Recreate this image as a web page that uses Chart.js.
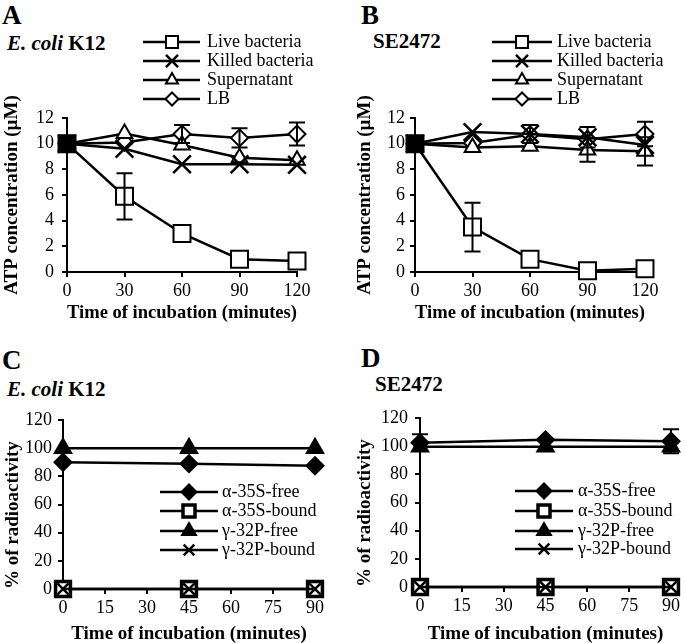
<!DOCTYPE html>
<html>
<head>
<meta charset="utf-8">
<script src="https://cdn.jsdelivr.net/npm/chart.js@4.4.0/dist/chart.umd.min.js"></script>
<style>
  body { margin: 0; background: #fff; width: 685px; height: 643px; position: relative; overflow: hidden; font-family: "Liberation Serif", "Times New Roman", Times, serif; }
  canvas { position: absolute; }
  .lbl { position: absolute; font-weight: bold; line-height: 1; white-space: nowrap; color: #000; }
</style>
</head>
<body>
<div class="lbl" style="left:2px;top:2px;font-size:27px">A</div>
<div class="lbl" style="left:7px;top:33px;font-size:21px"><i>E. coli</i> K12</div>
<div class="lbl" style="left:361px;top:2px;font-size:27px">B</div>
<div class="lbl" style="left:373px;top:31px;font-size:21px">SE2472</div>
<div class="lbl" style="left:2px;top:347px;font-size:27px">C</div>
<div class="lbl" style="left:7px;top:379px;font-size:21px"><i>E. coli</i> K12</div>
<div class="lbl" style="left:361px;top:345px;font-size:27px">D</div>
<div class="lbl" style="left:375px;top:374px;font-size:21px">SE2472</div>

<canvas id="chartA" width="342" height="324" style="left:0;top:0"></canvas>
<canvas id="chartB" width="343" height="324" style="left:342px;top:0"></canvas>
<canvas id="chartC" width="342" height="323" style="left:0;top:322px"></canvas>
<canvas id="chartD" width="343" height="323" style="left:342px;top:322px"></canvas>

<script>
// ---- data ----
const timesAB = [0, 30, 60, 90, 120];
const timesCD = [0, 45, 90];
const namesAB = ['Live bacteria', 'Killed bacteria', 'Supernatant', 'LB'];
const namesCD = ['α-35S-free', 'α-35S-bound', 'γ-32P-free', 'γ-32P-bound'];

// panel A, E. coli K12, ATP (µM)
const liveK12 = [10, 5.9, 3.0, 1.0, 0.85];
const liveK12Err = [0, 1.8, 0, 0, 0];
const killedK12 = [10, 9.6, 8.4, 8.4, 8.35];
const killedK12Err = [0, 0, 0, 0, 0];
const superK12 = [10, 10.8, 9.9, 8.9, 8.7];
const superK12Err = [0, 0, 0, 0, 0];
const lbK12 = [10, 10.1, 10.75, 10.45, 10.75];
const lbK12Err = [0, 0, 0.7, 0.75, 0.9];

// panel B, SE2472, ATP (µM)
const liveSE = [10, 3.5, 1.0, 0.1, 0.25];
const liveSEErr = [0, 1.9, 0, 0, 0];
const killedSE = [10, 10.9, 10.75, 10.5, 9.9];
const killedSEErr = [0, 0, 0.7, 0.8, 0];
const superSE = [10, 9.7, 9.8, 9.5, 9.4];
const superSEErr = [0, 0, 0, 0.9, 1.1];
const lbSE = [10, 10.05, 10.7, 10.35, 10.75];
const lbSEErr = [0, 0, 0, 0, 0.95];

// panel C, E. coli K12, % radioactivity
const a35FreeK12 = [90, 89, 87.5];
const a35BoundK12 = [0, 0, 0];
const g32FreeK12 = [100, 100, 100];
const g32BoundK12 = [0, 0, 0];

// panel D, SE2472, % radioactivity
const a35FreeSE = [102.5, 104.5, 103.5];
const a35FreeSEErr = [6, 0, 8.5];
const a35BoundSE = [0, 0, 0];
const g32FreeSE = [99.5, 99.5, 99.5];
const g32BoundSE = [0, 0, 0];

// ---- styles ----
const FONT = '"Liberation Serif", "Times New Roman", Times, serif';
const tickFont = { family: FONT, size: 18 };
const titleFont = { family: FONT, size: 19, weight: 'bold' };

// marker looks, one per series position
const marksAB = [
  { style: 'rect', r: 12, fill: '#fff', bw: 2, lr: 8.5, firstFill: '#000' },
  { style: 'crossRot', r: 12.5, fill: '#000', bw: 2.5, lr: 8.5 },
  { style: 'triangle', r: 9, fill: '#fff', bw: 2, lr: 7 },
  { style: 'rectRot', r: 8.5, fill: '#fff', bw: 2, lr: 6.5 }
];
const marksCD = [
  { style: 'rectRot', r: 8.5, fill: '#000', bw: 2, lr: 7.5 },
  { style: 'rect', r: 10.5, fill: '#fff', bw: 3.5, lr: 8.5 },
  { style: 'triangle', r: 9.5, fill: '#000', bw: 2, lr: 8 },
  { style: 'crossRot', r: 8, fill: '#000', bw: 2.5, lr: 7.5 }
];

function toPoints(times, vals) {
  return times.map((t, i) => ({ x: t, y: vals[i] }));
}

function makeSet(label, times, vals, errs, mark, order) {
  return {
    label: label,
    data: toPoints(times, vals),
    errors: errs,
    mark: mark,
    order: order,
    borderColor: '#000',
    borderWidth: 2.5,
    tension: 0,
    clip: false,
    pointStyle: mark.style,
    pointRadius: mark.r,
    // the stacked markers at t=0 print as one solid block
    pointBackgroundColor: c => (c.dataIndex === 0 && mark.firstFill) ? mark.firstFill : mark.fill,
    pointBorderColor: '#000',
    pointBorderWidth: mark.bw
  };
}

// error bars drawn from dataset.errors
const errorBars = {
  id: 'errorBars',
  afterDatasetsDraw(chart) {
    const ctx = chart.ctx;
    const xs = chart.scales.x, ys = chart.scales.y;
    ctx.save();
    ctx.strokeStyle = '#000';
    ctx.lineWidth = 2;
    chart.data.datasets.forEach(ds => {
      if (!ds.errors) return;
      ds.data.forEach((p, i) => {
        const e = ds.errors[i];
        if (!e) return;
        const px = xs.getPixelForValue(p.x);
        const top = ys.getPixelForValue(p.y + e);
        const bot = ys.getPixelForValue(p.y - e);
        ctx.beginPath();
        ctx.moveTo(px, top); ctx.lineTo(px, bot);
        ctx.moveTo(px - 8, top); ctx.lineTo(px + 8, top);
        ctx.moveTo(px - 8, bot); ctx.lineTo(px + 8, bot);
        ctx.stroke();
      });
    });
    ctx.restore();
  }
};

// legend with a line through the marker, placed by hand
const lineLegend = {
  id: 'lineLegend',
  afterDraw(chart, args, opts) {
    const ctx = chart.ctx;
    ctx.save();
    chart.data.datasets.forEach((ds, i) => {
      const y = opts.ys[i];
      ctx.strokeStyle = '#000';
      ctx.lineWidth = 2.5;
      ctx.beginPath();
      ctx.moveTo(opts.x1, y); ctx.lineTo(opts.x2, y);
      ctx.stroke();
      ctx.fillStyle = ds.mark.fill;
      ctx.lineWidth = ds.mark.bw;
      Chart.helpers.drawPoint(ctx, { pointStyle: ds.mark.style, radius: ds.mark.lr, borderWidth: ds.mark.bw, rotation: 0 }, opts.mx, y);
      ctx.fillStyle = '#000';
      ctx.font = '18px ' + FONT;
      ctx.textBaseline = 'middle';
      ctx.textAlign = 'left';
      ctx.fillText(ds.label, opts.tx, y);
    });
    ctx.restore();
  }
};

function makeChart(id, p) {
  const canvas = document.getElementById(id);
  const W = canvas.width, H = canvas.height;
  new Chart(canvas.getContext('2d'), {
    type: 'line',
    data: { datasets: p.datasets },
    options: {
      responsive: false,
      animation: false,
      devicePixelRatio: 1,
      layout: { padding: { left: 0, top: p.area.t, right: W - p.area.r, bottom: 0 } },
      plugins: {
        legend: { display: false },
        tooltip: { enabled: false },
        lineLegend: p.legend
      },
      scales: {
        x: {
          type: 'linear', min: p.xMin, max: p.xMax,
          ticks: { stepSize: p.xStep, color: '#000', font: tickFont, padding: 3, maxRotation: 0, autoSkip: false },
          grid: { drawOnChartArea: false, color: '#000', lineWidth: 2, tickLength: 5 },
          border: { color: '#000', width: 2 },
          title: { display: true, text: 'Time of incubation (minutes)', color: '#000', font: titleFont, padding: { top: 0, bottom: 0 } },
          afterFit: s => { s.height = H - p.area.b; }
        },
        y: {
          type: 'linear', min: p.yMin, max: p.yMax,
          ticks: { stepSize: p.yStep, color: '#000', font: tickFont, padding: p.yPad },
          grid: { drawOnChartArea: false, color: '#000', lineWidth: 2, tickLength: 5 },
          border: { color: '#000', width: 2 },
          title: { display: true, text: p.yTitle, align: p.yAlign, color: '#000', font: titleFont, padding: { top: p.yTitlePad, bottom: 0 } },
          afterFit: s => { s.width = p.area.l; }
        }
      }
    },
    plugins: [errorBars, lineLegend]
  });
}

makeChart('chartA', {
  area: { l: 67, t: 118, r: 297, b: 272 },
  xMin: 0, xMax: 120, xStep: 30, yMin: 0, yMax: 12, yStep: 2, yPad: 8, yTitlePad: 1, yAlign: 'center',
  yTitle: 'ATP concentration (µM)',
  legend: { ys: [42, 61, 80, 99], x1: 143, x2: 200, mx: 172, tx: 207 },
  datasets: [
    makeSet(namesAB[0], timesAB, liveK12, liveK12Err, marksAB[0], 0),
    makeSet(namesAB[1], timesAB, killedK12, killedK12Err, marksAB[1], 1),
    makeSet(namesAB[2], timesAB, superK12, superK12Err, marksAB[2], 2),
    makeSet(namesAB[3], timesAB, lbK12, lbK12Err, marksAB[3], 3)
  ]
});

makeChart('chartB', {
  area: { l: 73, t: 118, r: 303, b: 272 },
  xMin: 0, xMax: 120, xStep: 30, yMin: 0, yMax: 12, yStep: 2, yPad: 5, yTitlePad: 12, yAlign: 'center',
  yTitle: 'ATP concentration (µM)',
  legend: { ys: [42, 61, 80, 99], x1: 150, x2: 210, mx: 180, tx: 215 },
  datasets: [
    makeSet(namesAB[0], timesAB, liveSE, liveSEErr, marksAB[0], 0),
    makeSet(namesAB[1], timesAB, killedSE, killedSEErr, marksAB[1], 1),
    makeSet(namesAB[2], timesAB, superSE, superSEErr, marksAB[2], 2),
    makeSet(namesAB[3], timesAB, lbSE, lbSEErr, marksAB[3], 3)
  ]
});

// in C and D the later series sit on top
makeChart('chartC', {
  area: { l: 63, t: 98, r: 315, b: 267 },
  xMin: 0, xMax: 90, xStep: 15, yMin: 0, yMax: 120, yStep: 20, yPad: 6, yTitlePad: 2, yAlign: 'start',
  yTitle: '% of radioactivity',
  legend: { ys: [170, 189, 209, 228], x1: 160, x2: 218, mx: 189, tx: 222 },
  datasets: [
    makeSet(namesCD[0], timesCD, a35FreeK12, null, marksCD[0], 3),
    makeSet(namesCD[1], timesCD, a35BoundK12, null, marksCD[1], 2),
    makeSet(namesCD[2], timesCD, g32FreeK12, null, marksCD[2], 1),
    makeSet(namesCD[3], timesCD, g32BoundK12, null, marksCD[3], 0)
  ]
});

makeChart('chartD', {
  area: { l: 78, t: 96, r: 333, b: 265 },
  xMin: 0, xMax: 90, xStep: 15, yMin: 0, yMax: 120, yStep: 20, yPad: 7, yTitlePad: 12, yAlign: 'start',
  yTitle: '% of radioactivity',
  legend: { ys: [169, 189, 209, 227], x1: 173, x2: 231, mx: 202, tx: 236 },
  datasets: [
    makeSet(namesCD[0], timesCD, a35FreeSE, a35FreeSEErr, marksCD[0], 3),
    makeSet(namesCD[1], timesCD, a35BoundSE, null, marksCD[1], 2),
    makeSet(namesCD[2], timesCD, g32FreeSE, null, marksCD[2], 1),
    makeSet(namesCD[3], timesCD, g32BoundSE, null, marksCD[3], 0)
  ]
});
</script>
</body>
</html>
